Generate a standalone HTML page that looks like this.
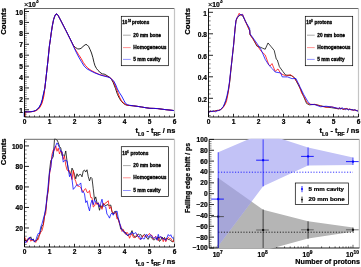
<!DOCTYPE html>
<html><head><meta charset="utf-8"><style>
html,body{margin:0;padding:0;background:#fff;}
svg{display:block;font-family:"Liberation Sans", sans-serif;will-change:transform;opacity:0.999;}
text{stroke:#000;stroke-width:0.22px;}
text.leg{stroke-width:0.3px;}
</style></head><body>
<svg width="361" height="267" viewBox="0 0 361 267" font-family="&quot;Liberation Sans&quot;, sans-serif">
<rect width="361" height="267" fill="#fff"/>
<polyline points="24.5,117 24.5,111.8 28,111.9 31,111.7 33.7,111.3 36,110.4 37.9,109 39.5,107 41.3,103.5 42.5,99.5 43.4,95.2 44.8,88.3 45.9,79 47,69 48,60 49.4,46 50.3,40 51.3,32.5 52.4,25.5 53.6,19.5 54.8,16 56,14 57,14 58.2,15.6 60,19 62,22.9 64,26.8 66,30.7 68,34.7 70,38.7 72,42.8 73.5,45.6 75.5,47.5 77.5,48.8 79,49 81,48.4 83,46.5 85,44.9 85.9,44.5 87,44.8 88.5,46.3 90.1,49.6 91.5,53 92.9,57.7 94,62.5 95,65.8 96.5,68.5 98,70.4 100,72.3 102.2,73.9 104.2,74.1 106,75 108,76.3 109.8,77.3 111.5,79.5 113.2,82.5 115.5,88.5 117.5,94.5 119.5,98.5 121.5,101.5 123.5,103.5 125.5,104.7 127.5,105.3 130,105.5 133.2,105.8 137,106.3 141.6,107 145,107.6 149.9,108.3 153.7,108.4 157.7,108.6 162,109.2 166,109.7 170,110.1 174.5,110.6 174.5,117" fill="none" stroke="#000" stroke-width="0.85" stroke-linejoin="round"/>
<polyline points="25.1,117 25.1,111.8 28.6,111.9 31.6,111.7 34.3,111.3 36.6,110.4 38.5,109 40.1,107 41.9,103.5 43.1,99.5 44,95.2 44.8,88.3 45.9,79 47,69 48,60 49.4,46 50.3,40 51.3,32.5 52.4,25.5 53.6,19.5 54.8,16 56,14 57,14 58.2,15.6 60,19 62,22.9 64,26.8 66,30.7 68,34.7 70,38.7 72,42.8 74,47 76.2,50.8 78.5,54.5 81.1,58.4 83.3,62.5 85.5,65.5 88,68.3 91.1,70.4 95,72.5 99.4,74.5 103.5,75.6 107.7,76.6 110.5,78 112.5,80.1 114.3,83.5 116,87.7 117.8,92.5 119.5,97 121.3,100.5 123.5,103 125.5,104.5 128,105.3 131,105.7 133.2,105.8 137,106.3 141.6,107 145,107.6 149.9,108.3 153.7,108.4 157.7,108.6 162,109.2 166,109.7 170,110.1 174.5,110.6 174.5,117" fill="none" stroke="#f00" stroke-width="0.85" stroke-linejoin="round"/>
<polyline points="24.2,117 24.2,111.8 27.7,111.9 30.7,111.7 33.4,111.3 35.7,110.4 37.6,109 39.2,107 41,103.5 42.2,99.5 43.1,95.2 44.8,88.3 45.9,79 47,69 48,60 49.4,46 50.3,40 51.3,32.5 52.4,25.5 53.6,19.5 54.8,16 56,14 57,14 58.2,15.6 60,19 62,22.9 64,26.8 66,30.7 68,34.7 70,38.7 72,42.8 74,47.5 76.2,52.2 78.7,57 81.2,61.3 84.2,66.2 86.8,68.7 89.7,70.4 95,73 100.8,75.2 105,76.3 109,77.3 111.5,79 114,81.5 115.8,85 117.4,89 119.5,92.8 121.6,96 123.8,100.2 125.6,103.5 127.3,104.6 129,105.2 132,105.6 133.2,105.8 137,106.3 141.6,107 145,107.6 149.9,108.3 153.7,108.4 157.7,108.6 162,109.2 166,109.7 170,110.1 174.5,110.6 174.5,117" fill="none" stroke="#00f" stroke-width="0.85" stroke-linejoin="round"/>
<line x1="24.5" y1="8.5" x2="174.5" y2="8.5" stroke="#444" stroke-width="0.8" />
<line x1="174.5" y1="8.5" x2="174.5" y2="117" stroke="#c4c4c4" stroke-width="1.2" />
<line x1="24.5" y1="8.5" x2="24.5" y2="117" stroke="#000" stroke-width="0.9" />
<line x1="24.5" y1="117" x2="174.5" y2="117" stroke="#000" stroke-width="0.9" />
<line x1="24.5" y1="117" x2="24.5" y2="113.8" stroke="#000" stroke-width="0.85" />
<line x1="29.5" y1="117" x2="29.5" y2="115.4" stroke="#000" stroke-width="0.6" />
<line x1="34.5" y1="117" x2="34.5" y2="115.4" stroke="#000" stroke-width="0.6" />
<line x1="39.5" y1="117" x2="39.5" y2="115.4" stroke="#000" stroke-width="0.6" />
<line x1="44.5" y1="117" x2="44.5" y2="115.4" stroke="#000" stroke-width="0.6" />
<line x1="49.5" y1="117" x2="49.5" y2="113.8" stroke="#000" stroke-width="0.85" />
<line x1="54.5" y1="117" x2="54.5" y2="115.4" stroke="#000" stroke-width="0.6" />
<line x1="59.5" y1="117" x2="59.5" y2="115.4" stroke="#000" stroke-width="0.6" />
<line x1="64.5" y1="117" x2="64.5" y2="115.4" stroke="#000" stroke-width="0.6" />
<line x1="69.5" y1="117" x2="69.5" y2="115.4" stroke="#000" stroke-width="0.6" />
<line x1="74.5" y1="117" x2="74.5" y2="113.8" stroke="#000" stroke-width="0.85" />
<line x1="79.5" y1="117" x2="79.5" y2="115.4" stroke="#000" stroke-width="0.6" />
<line x1="84.5" y1="117" x2="84.5" y2="115.4" stroke="#000" stroke-width="0.6" />
<line x1="89.5" y1="117" x2="89.5" y2="115.4" stroke="#000" stroke-width="0.6" />
<line x1="94.5" y1="117" x2="94.5" y2="115.4" stroke="#000" stroke-width="0.6" />
<line x1="99.5" y1="117" x2="99.5" y2="113.8" stroke="#000" stroke-width="0.85" />
<line x1="104.5" y1="117" x2="104.5" y2="115.4" stroke="#000" stroke-width="0.6" />
<line x1="109.5" y1="117" x2="109.5" y2="115.4" stroke="#000" stroke-width="0.6" />
<line x1="114.5" y1="117" x2="114.5" y2="115.4" stroke="#000" stroke-width="0.6" />
<line x1="119.5" y1="117" x2="119.5" y2="115.4" stroke="#000" stroke-width="0.6" />
<line x1="124.5" y1="117" x2="124.5" y2="113.8" stroke="#000" stroke-width="0.85" />
<line x1="129.5" y1="117" x2="129.5" y2="115.4" stroke="#000" stroke-width="0.6" />
<line x1="134.5" y1="117" x2="134.5" y2="115.4" stroke="#000" stroke-width="0.6" />
<line x1="139.5" y1="117" x2="139.5" y2="115.4" stroke="#000" stroke-width="0.6" />
<line x1="144.5" y1="117" x2="144.5" y2="115.4" stroke="#000" stroke-width="0.6" />
<line x1="149.5" y1="117" x2="149.5" y2="113.8" stroke="#000" stroke-width="0.85" />
<line x1="154.5" y1="117" x2="154.5" y2="115.4" stroke="#000" stroke-width="0.6" />
<line x1="159.5" y1="117" x2="159.5" y2="115.4" stroke="#000" stroke-width="0.6" />
<line x1="164.5" y1="117" x2="164.5" y2="115.4" stroke="#000" stroke-width="0.6" />
<line x1="169.5" y1="117" x2="169.5" y2="115.4" stroke="#000" stroke-width="0.6" />
<line x1="174.5" y1="117" x2="174.5" y2="113.8" stroke="#000" stroke-width="0.85" />
<text x="24.5" y="124" font-size="6.6" text-anchor="middle" font-weight="bold" >0</text>
<text x="49.5" y="124" font-size="6.6" text-anchor="middle" font-weight="bold" >1</text>
<text x="74.5" y="124" font-size="6.6" text-anchor="middle" font-weight="bold" >2</text>
<text x="99.5" y="124" font-size="6.6" text-anchor="middle" font-weight="bold" >3</text>
<text x="124.5" y="124" font-size="6.6" text-anchor="middle" font-weight="bold" >4</text>
<text x="149.5" y="124" font-size="6.6" text-anchor="middle" font-weight="bold" >5</text>
<text x="174.5" y="124" font-size="6.6" text-anchor="middle" font-weight="bold" >6</text>
<line x1="24.5" y1="109.78" x2="29" y2="109.78" stroke="#000" stroke-width="0.85" />
<text x="22.9" y="112.78" font-size="6.6" text-anchor="end" font-weight="bold" >1</text>
<line x1="24.5" y1="98.86" x2="29" y2="98.86" stroke="#000" stroke-width="0.85" />
<text x="22.9" y="101.86" font-size="6.6" text-anchor="end" font-weight="bold" >2</text>
<line x1="24.5" y1="87.94" x2="29" y2="87.94" stroke="#000" stroke-width="0.85" />
<text x="22.9" y="90.94" font-size="6.6" text-anchor="end" font-weight="bold" >3</text>
<line x1="24.5" y1="77.02" x2="29" y2="77.02" stroke="#000" stroke-width="0.85" />
<text x="22.9" y="80.02" font-size="6.6" text-anchor="end" font-weight="bold" >4</text>
<line x1="24.5" y1="66.1" x2="29" y2="66.1" stroke="#000" stroke-width="0.85" />
<text x="22.9" y="69.1" font-size="6.6" text-anchor="end" font-weight="bold" >5</text>
<line x1="24.5" y1="55.18" x2="29" y2="55.18" stroke="#000" stroke-width="0.85" />
<text x="22.9" y="58.18" font-size="6.6" text-anchor="end" font-weight="bold" >6</text>
<line x1="24.5" y1="44.26" x2="29" y2="44.26" stroke="#000" stroke-width="0.85" />
<text x="22.9" y="47.26" font-size="6.6" text-anchor="end" font-weight="bold" >7</text>
<line x1="24.5" y1="33.34" x2="29" y2="33.34" stroke="#000" stroke-width="0.85" />
<text x="22.9" y="36.34" font-size="6.6" text-anchor="end" font-weight="bold" >8</text>
<line x1="24.5" y1="22.42" x2="29" y2="22.42" stroke="#000" stroke-width="0.85" />
<text x="22.9" y="25.42" font-size="6.6" text-anchor="end" font-weight="bold" >9</text>
<line x1="24.5" y1="11.5" x2="29" y2="11.5" stroke="#000" stroke-width="0.85" />
<text x="22.9" y="14.5" font-size="6.6" text-anchor="end" font-weight="bold" >10</text>
<line x1="24.5" y1="116.33" x2="26.7" y2="116.33" stroke="#000" stroke-width="0.5" />
<line x1="24.5" y1="114.15" x2="26.7" y2="114.15" stroke="#000" stroke-width="0.5" />
<line x1="24.5" y1="111.96" x2="26.7" y2="111.96" stroke="#000" stroke-width="0.5" />
<line x1="24.5" y1="107.6" x2="26.7" y2="107.6" stroke="#000" stroke-width="0.5" />
<line x1="24.5" y1="105.41" x2="26.7" y2="105.41" stroke="#000" stroke-width="0.5" />
<line x1="24.5" y1="103.23" x2="26.7" y2="103.23" stroke="#000" stroke-width="0.5" />
<line x1="24.5" y1="101.04" x2="26.7" y2="101.04" stroke="#000" stroke-width="0.5" />
<line x1="24.5" y1="96.68" x2="26.7" y2="96.68" stroke="#000" stroke-width="0.5" />
<line x1="24.5" y1="94.49" x2="26.7" y2="94.49" stroke="#000" stroke-width="0.5" />
<line x1="24.5" y1="92.31" x2="26.7" y2="92.31" stroke="#000" stroke-width="0.5" />
<line x1="24.5" y1="90.12" x2="26.7" y2="90.12" stroke="#000" stroke-width="0.5" />
<line x1="24.5" y1="85.76" x2="26.7" y2="85.76" stroke="#000" stroke-width="0.5" />
<line x1="24.5" y1="83.57" x2="26.7" y2="83.57" stroke="#000" stroke-width="0.5" />
<line x1="24.5" y1="81.39" x2="26.7" y2="81.39" stroke="#000" stroke-width="0.5" />
<line x1="24.5" y1="79.2" x2="26.7" y2="79.2" stroke="#000" stroke-width="0.5" />
<line x1="24.5" y1="74.84" x2="26.7" y2="74.84" stroke="#000" stroke-width="0.5" />
<line x1="24.5" y1="72.65" x2="26.7" y2="72.65" stroke="#000" stroke-width="0.5" />
<line x1="24.5" y1="70.47" x2="26.7" y2="70.47" stroke="#000" stroke-width="0.5" />
<line x1="24.5" y1="68.28" x2="26.7" y2="68.28" stroke="#000" stroke-width="0.5" />
<line x1="24.5" y1="63.92" x2="26.7" y2="63.92" stroke="#000" stroke-width="0.5" />
<line x1="24.5" y1="61.73" x2="26.7" y2="61.73" stroke="#000" stroke-width="0.5" />
<line x1="24.5" y1="59.55" x2="26.7" y2="59.55" stroke="#000" stroke-width="0.5" />
<line x1="24.5" y1="57.36" x2="26.7" y2="57.36" stroke="#000" stroke-width="0.5" />
<line x1="24.5" y1="53" x2="26.7" y2="53" stroke="#000" stroke-width="0.5" />
<line x1="24.5" y1="50.81" x2="26.7" y2="50.81" stroke="#000" stroke-width="0.5" />
<line x1="24.5" y1="48.63" x2="26.7" y2="48.63" stroke="#000" stroke-width="0.5" />
<line x1="24.5" y1="46.44" x2="26.7" y2="46.44" stroke="#000" stroke-width="0.5" />
<line x1="24.5" y1="42.08" x2="26.7" y2="42.08" stroke="#000" stroke-width="0.5" />
<line x1="24.5" y1="39.89" x2="26.7" y2="39.89" stroke="#000" stroke-width="0.5" />
<line x1="24.5" y1="37.71" x2="26.7" y2="37.71" stroke="#000" stroke-width="0.5" />
<line x1="24.5" y1="35.52" x2="26.7" y2="35.52" stroke="#000" stroke-width="0.5" />
<line x1="24.5" y1="31.16" x2="26.7" y2="31.16" stroke="#000" stroke-width="0.5" />
<line x1="24.5" y1="28.97" x2="26.7" y2="28.97" stroke="#000" stroke-width="0.5" />
<line x1="24.5" y1="26.79" x2="26.7" y2="26.79" stroke="#000" stroke-width="0.5" />
<line x1="24.5" y1="24.6" x2="26.7" y2="24.6" stroke="#000" stroke-width="0.5" />
<line x1="24.5" y1="20.24" x2="26.7" y2="20.24" stroke="#000" stroke-width="0.5" />
<line x1="24.5" y1="18.05" x2="26.7" y2="18.05" stroke="#000" stroke-width="0.5" />
<line x1="24.5" y1="15.87" x2="26.7" y2="15.87" stroke="#000" stroke-width="0.5" />
<line x1="24.5" y1="13.68" x2="26.7" y2="13.68" stroke="#000" stroke-width="0.5" />
<line x1="24.5" y1="9.32" x2="26.7" y2="9.32" stroke="#000" stroke-width="0.5" />
<text x="24" y="7.3" font-size="6.8" text-anchor="start" font-weight="bold" ><tspan font-weight="normal" font-size="7.4" style="stroke-width:0.15px">×</tspan>10<tspan font-size="4.6" dy="-4.2">3</tspan></text>
<text x="0" y="0" font-size="7.8" text-anchor="middle" font-weight="bold" transform="translate(6.3,21.4) rotate(-90)">Counts</text>
<text x="175.4" y="133" font-size="7.4" text-anchor="end" font-weight="bold">t<tspan font-size="5.4" dy="2.6">L0</tspan><tspan dy="-2.6"> - t</tspan><tspan font-size="5.4" dy="2.6">RF</tspan><tspan dy="-2.6"> / ns</tspan></text>
<rect x="121.3" y="16.3" width="47.3" height="49.4" fill="#fff" stroke="#000" stroke-width="0.7"/>
<text x="122.2" y="23.6" font-size="4.9" font-weight="bold" textLength="5.1" lengthAdjust="spacingAndGlyphs" class="leg">10</text>
<text x="128" y="21.6" font-size="3.2" font-weight="bold" textLength="3.1" lengthAdjust="spacingAndGlyphs" class="leg">10</text>
<text x="132" y="23.6" font-size="4.9" font-weight="bold" textLength="17.3" lengthAdjust="spacingAndGlyphs" class="leg">protons</text>
<line x1="123" y1="35.2" x2="130.7" y2="35.2" stroke="#888" stroke-width="0.7" />
<text x="133.3" y="36.5" font-size="4.8" font-weight="bold" textLength="27.7" lengthAdjust="spacingAndGlyphs" class="leg">20 mm bone</text>
<line x1="123" y1="47.6" x2="130.7" y2="47.6" stroke="#f66" stroke-width="0.7" />
<text x="133.3" y="48.9" font-size="4.8" font-weight="bold" textLength="33.2" lengthAdjust="spacingAndGlyphs" class="leg">Homogeneous</text>
<line x1="123" y1="59.4" x2="130.7" y2="59.4" stroke="#66f" stroke-width="0.7" />
<text x="133.3" y="60.7" font-size="4.8" font-weight="bold" textLength="27.3" lengthAdjust="spacingAndGlyphs" class="leg">5 mm cavity</text>
<polyline points="208.5,117 208.5,111.8 209.75,111.9 211,111.4 212.25,111.09 213.5,110.87 214.75,111.23 216,110.65 217.25,110.3 218.5,110.57 219.75,110.05 221,109.38 222.25,107.69 223.5,106.5 224.75,104.04 226,100.47 227.25,96.18 228.5,89.95 229.75,81.72 231,69.14 232.25,57.39 233.5,46.38 233.6,45.17 235,29.68 236,21.13 237.1,17.93 239.2,15.99 240.5,14.55 242.6,15.74 245.4,20.8 249.6,30.63 249.75,30.29 250,34.87 252.8,38.49 256.9,46.13 260.4,47.26 262.5,48.17 265.2,49.25 268,42.96 270.8,46.26 274.2,50.39 276.3,59.22 277.3,59.93 279.4,66.66 282.9,71.52 285.6,75.02 289.1,75.32 291.9,75.82 294.6,77.75 298.1,84.62 300.9,89.8 303.6,96.48 306.6,103.46 309.4,104.83 314.9,104.33 320.5,105.73 326,106.98 331.6,107.7 338.5,108.87 339.75,108.63 341,108.16 342.25,108.92 343.5,109.31 344.75,108.85 346,108.62 347.25,109.05 348.5,109.82 349.75,108.97 351,109.76 352.25,109.53 353.5,110 354.75,110.09 356,110.33 357.25,111.06 358.5,110.77 358.5,117" fill="none" stroke="#000" stroke-width="0.75" stroke-linejoin="round"/>
<polyline points="208.5,117 208.5,112.21 210.35,111.08 211.6,111.53 212.85,111.44 214.1,111.63 215.35,110.67 216.6,110.89 217.85,110.57 219.1,110.06 220.35,109.66 221.6,108.96 222.85,107.94 224.1,106.12 225.35,104.26 226.6,100.91 227.85,94.33 229.1,86.44 230.35,74.66 231.6,63.06 232.85,51.72 233.6,45.2 235,28.85 236,20.63 237.1,17.9 239.2,13.26 240.5,15.35 242.6,14.26 245.4,21.69 249.6,30.22 250,34.4 256.9,44.99 261.1,51.19 265.2,54.92 268.7,64.43 270.1,66 272,63.59 275.2,71.35 278,68.95 280.8,73.76 286.3,75.94 290.5,74.59 293.9,77.61 298.8,84.63 301.6,93.08 304.3,96.98 306.9,102.44 309.4,104.22 314.9,104.51 320.5,105.99 326,107.32 331.6,106.66 338.5,108.86 339.1,107.7 340.35,108.53 341.6,108.08 342.85,109.43 344.1,109.3 345.35,108.84 346.6,108.45 347.85,109.06 349.1,109.51 350.35,109.28 351.6,109.92 352.85,110.33 354.1,110.04 355.35,110.02 356.6,110.65 357.85,110.36 358.5,110.89 358.5,117" fill="none" stroke="#f00" stroke-width="0.75" stroke-linejoin="round"/>
<polyline points="208.5,117 208.5,111.34 209.45,111.82 210.7,111.01 211.95,111.77 213.2,111.2 214.45,111.11 215.7,111.8 216.95,110.93 218.2,110.47 219.45,110.29 220.7,109.62 221.95,108.05 223.2,106.75 224.45,103.64 225.7,100.5 226.95,95.7 228.2,90.02 229.45,81.92 230.7,70.64 231.95,60.27 233.2,47.86 233.6,44.73 235,28.87 236,20.14 237.1,17.62 239.2,15.15 240.5,14.61 242.6,14.7 245.4,21.49 249.6,28.27 250,33.73 256.9,43.33 261.1,49.65 265.2,59.34 269,65.36 272.5,68.85 275.2,72.02 280.8,72.99 282.2,76.89 287.7,76.93 291.9,78.65 296,78.56 300.2,87.37 303.9,94.9 308,101.75 310.5,104.48 314.9,104.66 320.5,106.75 326,106.21 331.6,106.94 338.5,108.41 339.45,107.63 340.7,109.33 341.95,107.65 343.2,108.69 344.45,108.77 345.7,109.83 346.95,108.52 348.2,109.91 349.45,109.34 350.7,109.71 351.95,109.63 353.2,110.28 354.45,109.7 355.7,110.26 356.95,110.57 358.2,111.29 358.5,109.65 358.5,117" fill="none" stroke="#00f" stroke-width="0.75" stroke-linejoin="round"/>
<line x1="208.5" y1="8.5" x2="358.5" y2="8.5" stroke="#444" stroke-width="0.8" />
<line x1="358.5" y1="8.5" x2="358.5" y2="117" stroke="#c4c4c4" stroke-width="1.2" />
<line x1="208.5" y1="8.5" x2="208.5" y2="117" stroke="#000" stroke-width="0.9" />
<line x1="208.5" y1="117" x2="358.5" y2="117" stroke="#000" stroke-width="0.9" />
<line x1="208.5" y1="117" x2="208.5" y2="113.8" stroke="#000" stroke-width="0.85" />
<line x1="213.5" y1="117" x2="213.5" y2="115.4" stroke="#000" stroke-width="0.6" />
<line x1="218.5" y1="117" x2="218.5" y2="115.4" stroke="#000" stroke-width="0.6" />
<line x1="223.5" y1="117" x2="223.5" y2="115.4" stroke="#000" stroke-width="0.6" />
<line x1="228.5" y1="117" x2="228.5" y2="115.4" stroke="#000" stroke-width="0.6" />
<line x1="233.5" y1="117" x2="233.5" y2="113.8" stroke="#000" stroke-width="0.85" />
<line x1="238.5" y1="117" x2="238.5" y2="115.4" stroke="#000" stroke-width="0.6" />
<line x1="243.5" y1="117" x2="243.5" y2="115.4" stroke="#000" stroke-width="0.6" />
<line x1="248.5" y1="117" x2="248.5" y2="115.4" stroke="#000" stroke-width="0.6" />
<line x1="253.5" y1="117" x2="253.5" y2="115.4" stroke="#000" stroke-width="0.6" />
<line x1="258.5" y1="117" x2="258.5" y2="113.8" stroke="#000" stroke-width="0.85" />
<line x1="263.5" y1="117" x2="263.5" y2="115.4" stroke="#000" stroke-width="0.6" />
<line x1="268.5" y1="117" x2="268.5" y2="115.4" stroke="#000" stroke-width="0.6" />
<line x1="273.5" y1="117" x2="273.5" y2="115.4" stroke="#000" stroke-width="0.6" />
<line x1="278.5" y1="117" x2="278.5" y2="115.4" stroke="#000" stroke-width="0.6" />
<line x1="283.5" y1="117" x2="283.5" y2="113.8" stroke="#000" stroke-width="0.85" />
<line x1="288.5" y1="117" x2="288.5" y2="115.4" stroke="#000" stroke-width="0.6" />
<line x1="293.5" y1="117" x2="293.5" y2="115.4" stroke="#000" stroke-width="0.6" />
<line x1="298.5" y1="117" x2="298.5" y2="115.4" stroke="#000" stroke-width="0.6" />
<line x1="303.5" y1="117" x2="303.5" y2="115.4" stroke="#000" stroke-width="0.6" />
<line x1="308.5" y1="117" x2="308.5" y2="113.8" stroke="#000" stroke-width="0.85" />
<line x1="313.5" y1="117" x2="313.5" y2="115.4" stroke="#000" stroke-width="0.6" />
<line x1="318.5" y1="117" x2="318.5" y2="115.4" stroke="#000" stroke-width="0.6" />
<line x1="323.5" y1="117" x2="323.5" y2="115.4" stroke="#000" stroke-width="0.6" />
<line x1="328.5" y1="117" x2="328.5" y2="115.4" stroke="#000" stroke-width="0.6" />
<line x1="333.5" y1="117" x2="333.5" y2="113.8" stroke="#000" stroke-width="0.85" />
<line x1="338.5" y1="117" x2="338.5" y2="115.4" stroke="#000" stroke-width="0.6" />
<line x1="343.5" y1="117" x2="343.5" y2="115.4" stroke="#000" stroke-width="0.6" />
<line x1="348.5" y1="117" x2="348.5" y2="115.4" stroke="#000" stroke-width="0.6" />
<line x1="353.5" y1="117" x2="353.5" y2="115.4" stroke="#000" stroke-width="0.6" />
<line x1="358.5" y1="117" x2="358.5" y2="113.8" stroke="#000" stroke-width="0.85" />
<text x="208.5" y="124" font-size="6.6" text-anchor="middle" font-weight="bold" >0</text>
<text x="233.5" y="124" font-size="6.6" text-anchor="middle" font-weight="bold" >1</text>
<text x="258.5" y="124" font-size="6.6" text-anchor="middle" font-weight="bold" >2</text>
<text x="283.5" y="124" font-size="6.6" text-anchor="middle" font-weight="bold" >3</text>
<text x="308.5" y="124" font-size="6.6" text-anchor="middle" font-weight="bold" >4</text>
<text x="333.5" y="124" font-size="6.6" text-anchor="middle" font-weight="bold" >5</text>
<text x="358.5" y="124" font-size="6.6" text-anchor="middle" font-weight="bold" >6</text>
<line x1="208.5" y1="98.3" x2="213" y2="98.3" stroke="#000" stroke-width="0.85" />
<text x="207" y="101.8" font-size="6.6" text-anchor="end" font-weight="bold" >0.2</text>
<line x1="208.5" y1="76.8" x2="213" y2="76.8" stroke="#000" stroke-width="0.85" />
<text x="207" y="80.3" font-size="6.6" text-anchor="end" font-weight="bold" >0.4</text>
<line x1="208.5" y1="55.3" x2="213" y2="55.3" stroke="#000" stroke-width="0.85" />
<text x="207" y="58.8" font-size="6.6" text-anchor="end" font-weight="bold" >0.6</text>
<line x1="208.5" y1="33.8" x2="213" y2="33.8" stroke="#000" stroke-width="0.85" />
<text x="207" y="37.3" font-size="6.6" text-anchor="end" font-weight="bold" >0.8</text>
<line x1="208.5" y1="12.3" x2="213" y2="12.3" stroke="#000" stroke-width="0.85" />
<text x="207" y="15.8" font-size="6.6" text-anchor="end" font-weight="bold" >1</text>
<line x1="208.5" y1="115.5" x2="210.7" y2="115.5" stroke="#000" stroke-width="0.5" />
<line x1="208.5" y1="111.2" x2="210.7" y2="111.2" stroke="#000" stroke-width="0.5" />
<line x1="208.5" y1="106.9" x2="210.7" y2="106.9" stroke="#000" stroke-width="0.5" />
<line x1="208.5" y1="102.6" x2="210.7" y2="102.6" stroke="#000" stroke-width="0.5" />
<line x1="208.5" y1="94" x2="210.7" y2="94" stroke="#000" stroke-width="0.5" />
<line x1="208.5" y1="89.7" x2="210.7" y2="89.7" stroke="#000" stroke-width="0.5" />
<line x1="208.5" y1="85.4" x2="210.7" y2="85.4" stroke="#000" stroke-width="0.5" />
<line x1="208.5" y1="81.1" x2="210.7" y2="81.1" stroke="#000" stroke-width="0.5" />
<line x1="208.5" y1="72.5" x2="210.7" y2="72.5" stroke="#000" stroke-width="0.5" />
<line x1="208.5" y1="68.2" x2="210.7" y2="68.2" stroke="#000" stroke-width="0.5" />
<line x1="208.5" y1="63.9" x2="210.7" y2="63.9" stroke="#000" stroke-width="0.5" />
<line x1="208.5" y1="59.6" x2="210.7" y2="59.6" stroke="#000" stroke-width="0.5" />
<line x1="208.5" y1="51" x2="210.7" y2="51" stroke="#000" stroke-width="0.5" />
<line x1="208.5" y1="46.7" x2="210.7" y2="46.7" stroke="#000" stroke-width="0.5" />
<line x1="208.5" y1="42.4" x2="210.7" y2="42.4" stroke="#000" stroke-width="0.5" />
<line x1="208.5" y1="38.1" x2="210.7" y2="38.1" stroke="#000" stroke-width="0.5" />
<line x1="208.5" y1="29.5" x2="210.7" y2="29.5" stroke="#000" stroke-width="0.5" />
<line x1="208.5" y1="25.2" x2="210.7" y2="25.2" stroke="#000" stroke-width="0.5" />
<line x1="208.5" y1="20.9" x2="210.7" y2="20.9" stroke="#000" stroke-width="0.5" />
<line x1="208.5" y1="16.6" x2="210.7" y2="16.6" stroke="#000" stroke-width="0.5" />
<text x="208" y="7.3" font-size="6.8" text-anchor="start" font-weight="bold" ><tspan font-weight="normal" font-size="7.4" style="stroke-width:0.15px">×</tspan>10<tspan font-size="4.6" dy="-4.2">3</tspan></text>
<text x="0" y="0" font-size="7.8" text-anchor="middle" font-weight="bold" transform="translate(190.3,21.4) rotate(-90)">Counts</text>
<text x="359.4" y="133" font-size="7.4" text-anchor="end" font-weight="bold">t<tspan font-size="5.4" dy="2.6">L0</tspan><tspan dy="-2.6"> - t</tspan><tspan font-size="5.4" dy="2.6">RF</tspan><tspan dy="-2.6"> / ns</tspan></text>
<rect x="305.3" y="16.3" width="47.4" height="49.4" fill="#fff" stroke="#000" stroke-width="0.7"/>
<text x="306.2" y="23.6" font-size="4.9" font-weight="bold" textLength="5.1" lengthAdjust="spacingAndGlyphs" class="leg">10</text>
<text x="311.3" y="21.6" font-size="3.2" font-weight="bold" textLength="1.4" lengthAdjust="spacingAndGlyphs" class="leg">8</text>
<text x="314.6" y="23.6" font-size="4.9" font-weight="bold" textLength="17.6" lengthAdjust="spacingAndGlyphs" class="leg">protons</text>
<line x1="307" y1="35.2" x2="314.7" y2="35.2" stroke="#888" stroke-width="0.7" />
<text x="317.3" y="36.5" font-size="4.8" font-weight="bold" textLength="27.7" lengthAdjust="spacingAndGlyphs" class="leg">20 mm bone</text>
<line x1="307" y1="47.6" x2="314.7" y2="47.6" stroke="#f66" stroke-width="0.7" />
<text x="317.3" y="48.9" font-size="4.8" font-weight="bold" textLength="33.2" lengthAdjust="spacingAndGlyphs" class="leg">Homogeneous</text>
<line x1="307" y1="59.4" x2="314.7" y2="59.4" stroke="#66f" stroke-width="0.7" />
<text x="317.3" y="60.7" font-size="4.8" font-weight="bold" textLength="27.3" lengthAdjust="spacingAndGlyphs" class="leg">5 mm cavity</text>
<polyline points="24.5,247 24.5,238.98 25.75,241.01 27,241.14 28.25,238.28 29.5,238.54 30.75,236.83 32,240.18 33.25,238.95 34.5,242.14 35.75,240.37 37,240.55 38.25,236.62 39.5,234.46 40.75,230.49 42,225.9 43.25,224.73 44.5,215.76 45.75,209.97 47,198.82 48.25,189.64 49.5,170.83 50.75,160.61 52,158.66 53.25,156.74 54.5,139 55.75,139.34 57,139.88 58.25,142.6 59.5,146.48 60.75,147.86 62,155.76 63.25,154.97 64.5,155.94 65.75,150.96 67,161.12 68.25,169.78 69.5,172.75 70.75,175.13 72,168.08 73.25,170.69 74.5,174.58 75.75,178.8 77,173.77 78.25,176.4 79.5,174.51 80.75,174.42 82,176.83 83.25,170.91 84.5,170.03 85.75,172.06 87,169.75 88.25,176.59 89.5,180.9 90.75,177.22 92,178.48 93.25,188.74 94.5,199.87 95.75,196.89 97,202.82 98.25,204.76 99.5,210.29 100.75,205.41 102,207.71 103.25,204.23 104.5,204.54 105.75,206.06 107,204.45 108.25,205.16 109.5,205.39 110.75,205.04 112,211.81 113.25,214.23 114.5,211.54 115.75,211.34 117,216.28 118.25,219.08 119.5,223.28 120.75,229.11 122,228.52 123.25,230.18 124.5,233.06 125.75,232.43 127,235.03 128.25,235.8 129.5,234.56 130.75,233.39 132,230.62 133.25,234.46 134.5,237.1 135.75,237.18 137,236 138.25,233.96 139.5,234.98 140.75,234.53 142,236.86 143.25,235.46 144.5,234.33 145.75,235.94 147,238.29 148.25,239.34 149.5,236.69 150.75,236.98 152,238.13 153.25,239.83 154.5,239.77 155.75,238.5 157,238.87 158.25,236.7 159.5,241.41 160.75,240.24 162,236.99 163.25,238.92 164.5,237.4 165.75,239.83 167,238.08 168.25,239.54 169.5,239.67 170.75,240.56 172,241.63 173.25,241.84 174.5,234.88 174.5,247" fill="none" stroke="#000" stroke-width="0.75" stroke-linejoin="round"/>
<polyline points="24.5,247 24.5,237 25.75,239.34 27,242.38 28.25,238.65 29.5,238.04 30.75,241.29 32,240.08 33.25,240.35 34.5,240.95 35.75,242.44 37,239.23 38.25,239.61 39.5,235.08 40.75,232.26 42,230.66 43.25,225.87 44.5,216.59 45.75,213.42 47,196.46 48.25,190.7 49.5,174.33 50.75,167.3 52,154.27 53.25,149.9 54.5,150.18 55.75,145.94 57,151.28 58.25,148.23 59.5,153.97 60.75,150.83 62,152.03 63.25,159.39 64.5,156 65.75,165.14 67,169.93 68.25,171.06 69.5,170.64 70.75,174.46 72,179.58 73.25,170.39 74.5,178.44 75.75,181.43 77,185.55 78.25,186.19 79.5,186.48 80.75,187.69 82,190.1 83.25,191.96 84.5,189.42 85.75,188.7 87,192.27 88.25,192.59 89.5,190.55 90.75,197.5 92,197.65 93.25,207.02 94.5,206.03 95.75,202.37 97,204.63 98.25,202.65 99.5,206.17 100.75,206.14 102,209.33 103.25,202.93 104.5,204.45 105.75,202.58 107,202.13 108.25,200.7 109.5,208.81 110.75,206.68 112,211.74 113.25,212.75 114.5,213.49 115.75,211.93 117,219 118.25,218.78 119.5,223.88 120.75,225.82 122,231.47 123.25,229.59 124.5,231.92 125.75,234.44 127,232.27 128.25,233.91 129.5,238.27 130.75,235.51 132,233.65 133.25,237.34 134.5,237.72 135.75,236.17 137,234.37 138.25,237.2 139.5,239.08 140.75,239.16 142,238.08 143.25,235.2 144.5,236.19 145.75,236.25 147,235.84 148.25,235.07 149.5,233.46 150.75,235.22 152,235.38 153.25,239.09 154.5,237.76 155.75,236.18 157,237.77 158.25,240.78 159.5,237.72 160.75,236.74 162,237.81 163.25,241.67 164.5,238.08 165.75,241.73 167,239.38 168.25,237.44 169.5,238.48 170.75,238.35 172,240.64 173.25,241.95 174.5,239.28 174.5,247" fill="none" stroke="#f00" stroke-width="0.75" stroke-linejoin="round"/>
<polyline points="24.5,247 24.5,240.7 25.75,242.76 27,240.71 28.25,239.86 29.5,237.25 30.75,239.55 32,239.63 33.25,239.43 34.5,241.92 35.75,240.56 37,236.37 38.25,233.41 39.5,233.58 40.75,227.01 42,223.72 43.25,219.16 44.5,214.51 45.75,208.01 47,196.81 48.25,184.12 49.5,172.81 50.75,167.4 52,157.4 53.25,152.71 54.5,148.23 55.75,145.63 57,142.9 58.25,144.91 59.5,147.96 60.75,151.34 62,151.35 63.25,162.14 64.5,160.62 65.75,160.26 67,160.98 68.25,168.24 69.5,176.68 70.75,173.7 72,179.35 73.25,189.37 74.5,187.95 75.75,186.28 77,184.53 78.25,185.42 79.5,184.38 80.75,182.95 82,192.48 83.25,191.64 84.5,193.87 85.75,202.6 87,200.71 88.25,206.71 89.5,210.86 90.75,203.95 92,200.1 93.25,204.72 94.5,199.66 95.75,202.06 97,203.67 98.25,203.04 99.5,206.93 100.75,203.34 102,199.21 103.25,206.21 104.5,206.26 105.75,207.13 107,214.36 108.25,215.49 109.5,218.15 110.75,214.3 112,212.91 113.25,215.22 114.5,212.67 115.75,211.94 117,210.97 118.25,218.18 119.5,222.32 120.75,227.12 122,230.04 123.25,231.67 124.5,231.9 125.75,233.88 127,235.12 128.25,235.25 129.5,233.73 130.75,234.64 132,232.07 133.25,233.76 134.5,233.39 135.75,232.6 137,234.9 138.25,236.69 139.5,235.95 140.75,239.64 142,237.52 143.25,238.9 144.5,238.75 145.75,234.92 147,234.51 148.25,237.53 149.5,235.65 150.75,234.87 152,236.82 153.25,237.93 154.5,237.84 155.75,236.86 157,240.16 158.25,234.35 159.5,238.13 160.75,236.45 162,238 163.25,239.29 164.5,239.19 165.75,240.44 167,237.49 168.25,234.53 169.5,236.19 170.75,234.71 172,237.67 173.25,238.18 174.5,237.63 174.5,247" fill="none" stroke="#00f" stroke-width="0.75" stroke-linejoin="round"/>
<line x1="24.5" y1="139.3" x2="174.5" y2="139.3" stroke="#444" stroke-width="0.8" />
<line x1="174.5" y1="139.3" x2="174.5" y2="247" stroke="#c4c4c4" stroke-width="1.2" />
<line x1="24.5" y1="139.3" x2="24.5" y2="247" stroke="#000" stroke-width="0.9" />
<line x1="24.5" y1="247" x2="174.5" y2="247" stroke="#000" stroke-width="0.9" />
<line x1="24.5" y1="247" x2="24.5" y2="243.8" stroke="#000" stroke-width="0.85" />
<line x1="29.5" y1="247" x2="29.5" y2="245.4" stroke="#000" stroke-width="0.6" />
<line x1="34.5" y1="247" x2="34.5" y2="245.4" stroke="#000" stroke-width="0.6" />
<line x1="39.5" y1="247" x2="39.5" y2="245.4" stroke="#000" stroke-width="0.6" />
<line x1="44.5" y1="247" x2="44.5" y2="245.4" stroke="#000" stroke-width="0.6" />
<line x1="49.5" y1="247" x2="49.5" y2="243.8" stroke="#000" stroke-width="0.85" />
<line x1="54.5" y1="247" x2="54.5" y2="245.4" stroke="#000" stroke-width="0.6" />
<line x1="59.5" y1="247" x2="59.5" y2="245.4" stroke="#000" stroke-width="0.6" />
<line x1="64.5" y1="247" x2="64.5" y2="245.4" stroke="#000" stroke-width="0.6" />
<line x1="69.5" y1="247" x2="69.5" y2="245.4" stroke="#000" stroke-width="0.6" />
<line x1="74.5" y1="247" x2="74.5" y2="243.8" stroke="#000" stroke-width="0.85" />
<line x1="79.5" y1="247" x2="79.5" y2="245.4" stroke="#000" stroke-width="0.6" />
<line x1="84.5" y1="247" x2="84.5" y2="245.4" stroke="#000" stroke-width="0.6" />
<line x1="89.5" y1="247" x2="89.5" y2="245.4" stroke="#000" stroke-width="0.6" />
<line x1="94.5" y1="247" x2="94.5" y2="245.4" stroke="#000" stroke-width="0.6" />
<line x1="99.5" y1="247" x2="99.5" y2="243.8" stroke="#000" stroke-width="0.85" />
<line x1="104.5" y1="247" x2="104.5" y2="245.4" stroke="#000" stroke-width="0.6" />
<line x1="109.5" y1="247" x2="109.5" y2="245.4" stroke="#000" stroke-width="0.6" />
<line x1="114.5" y1="247" x2="114.5" y2="245.4" stroke="#000" stroke-width="0.6" />
<line x1="119.5" y1="247" x2="119.5" y2="245.4" stroke="#000" stroke-width="0.6" />
<line x1="124.5" y1="247" x2="124.5" y2="243.8" stroke="#000" stroke-width="0.85" />
<line x1="129.5" y1="247" x2="129.5" y2="245.4" stroke="#000" stroke-width="0.6" />
<line x1="134.5" y1="247" x2="134.5" y2="245.4" stroke="#000" stroke-width="0.6" />
<line x1="139.5" y1="247" x2="139.5" y2="245.4" stroke="#000" stroke-width="0.6" />
<line x1="144.5" y1="247" x2="144.5" y2="245.4" stroke="#000" stroke-width="0.6" />
<line x1="149.5" y1="247" x2="149.5" y2="243.8" stroke="#000" stroke-width="0.85" />
<line x1="154.5" y1="247" x2="154.5" y2="245.4" stroke="#000" stroke-width="0.6" />
<line x1="159.5" y1="247" x2="159.5" y2="245.4" stroke="#000" stroke-width="0.6" />
<line x1="164.5" y1="247" x2="164.5" y2="245.4" stroke="#000" stroke-width="0.6" />
<line x1="169.5" y1="247" x2="169.5" y2="245.4" stroke="#000" stroke-width="0.6" />
<line x1="174.5" y1="247" x2="174.5" y2="243.8" stroke="#000" stroke-width="0.85" />
<text x="24.5" y="254" font-size="6.6" text-anchor="middle" font-weight="bold" >0</text>
<text x="49.5" y="254" font-size="6.6" text-anchor="middle" font-weight="bold" >1</text>
<text x="74.5" y="254" font-size="6.6" text-anchor="middle" font-weight="bold" >2</text>
<text x="99.5" y="254" font-size="6.6" text-anchor="middle" font-weight="bold" >3</text>
<text x="124.5" y="254" font-size="6.6" text-anchor="middle" font-weight="bold" >4</text>
<text x="149.5" y="254" font-size="6.6" text-anchor="middle" font-weight="bold" >5</text>
<text x="174.5" y="254" font-size="6.6" text-anchor="middle" font-weight="bold" >6</text>
<line x1="24.5" y1="227.98" x2="29" y2="227.98" stroke="#000" stroke-width="0.85" />
<text x="22.9" y="230.98" font-size="6.6" text-anchor="end" font-weight="bold" >20</text>
<line x1="24.5" y1="207.46" x2="29" y2="207.46" stroke="#000" stroke-width="0.85" />
<text x="22.9" y="210.46" font-size="6.6" text-anchor="end" font-weight="bold" >40</text>
<line x1="24.5" y1="186.94" x2="29" y2="186.94" stroke="#000" stroke-width="0.85" />
<text x="22.9" y="189.94" font-size="6.6" text-anchor="end" font-weight="bold" >60</text>
<line x1="24.5" y1="166.42" x2="29" y2="166.42" stroke="#000" stroke-width="0.85" />
<text x="22.9" y="169.42" font-size="6.6" text-anchor="end" font-weight="bold" >80</text>
<line x1="24.5" y1="145.9" x2="29" y2="145.9" stroke="#000" stroke-width="0.85" />
<text x="22.9" y="148.9" font-size="6.6" text-anchor="end" font-weight="bold" >100</text>
<line x1="24.5" y1="244.4" x2="26.7" y2="244.4" stroke="#000" stroke-width="0.5" />
<line x1="24.5" y1="240.29" x2="26.7" y2="240.29" stroke="#000" stroke-width="0.5" />
<line x1="24.5" y1="236.19" x2="26.7" y2="236.19" stroke="#000" stroke-width="0.5" />
<line x1="24.5" y1="232.08" x2="26.7" y2="232.08" stroke="#000" stroke-width="0.5" />
<line x1="24.5" y1="223.88" x2="26.7" y2="223.88" stroke="#000" stroke-width="0.5" />
<line x1="24.5" y1="219.77" x2="26.7" y2="219.77" stroke="#000" stroke-width="0.5" />
<line x1="24.5" y1="215.67" x2="26.7" y2="215.67" stroke="#000" stroke-width="0.5" />
<line x1="24.5" y1="211.56" x2="26.7" y2="211.56" stroke="#000" stroke-width="0.5" />
<line x1="24.5" y1="203.36" x2="26.7" y2="203.36" stroke="#000" stroke-width="0.5" />
<line x1="24.5" y1="199.25" x2="26.7" y2="199.25" stroke="#000" stroke-width="0.5" />
<line x1="24.5" y1="195.15" x2="26.7" y2="195.15" stroke="#000" stroke-width="0.5" />
<line x1="24.5" y1="191.04" x2="26.7" y2="191.04" stroke="#000" stroke-width="0.5" />
<line x1="24.5" y1="182.84" x2="26.7" y2="182.84" stroke="#000" stroke-width="0.5" />
<line x1="24.5" y1="178.73" x2="26.7" y2="178.73" stroke="#000" stroke-width="0.5" />
<line x1="24.5" y1="174.63" x2="26.7" y2="174.63" stroke="#000" stroke-width="0.5" />
<line x1="24.5" y1="170.52" x2="26.7" y2="170.52" stroke="#000" stroke-width="0.5" />
<line x1="24.5" y1="162.32" x2="26.7" y2="162.32" stroke="#000" stroke-width="0.5" />
<line x1="24.5" y1="158.21" x2="26.7" y2="158.21" stroke="#000" stroke-width="0.5" />
<line x1="24.5" y1="154.11" x2="26.7" y2="154.11" stroke="#000" stroke-width="0.5" />
<line x1="24.5" y1="150" x2="26.7" y2="150" stroke="#000" stroke-width="0.5" />
<line x1="24.5" y1="141.8" x2="26.7" y2="141.8" stroke="#000" stroke-width="0.5" />
<text x="0" y="0" font-size="7.8" text-anchor="middle" font-weight="bold" transform="translate(6.3,151.8) rotate(-90)">Counts</text>
<text x="175.4" y="263.5" font-size="7.4" text-anchor="end" font-weight="bold">t<tspan font-size="5.4" dy="2.6">L0</tspan><tspan dy="-2.6"> - t</tspan><tspan font-size="5.4" dy="2.6">RF</tspan><tspan dy="-2.6"> / ns</tspan></text>
<rect x="121.3" y="146.7" width="47.2" height="49.7" fill="#fff" stroke="#000" stroke-width="0.7"/>
<text x="122.2" y="154.8" font-size="4.9" font-weight="bold" textLength="5.1" lengthAdjust="spacingAndGlyphs" class="leg">10</text>
<text x="127.3" y="152.8" font-size="3.2" font-weight="bold" textLength="1.4" lengthAdjust="spacingAndGlyphs" class="leg">6</text>
<text x="130.5" y="154.8" font-size="4.9" font-weight="bold" textLength="18.0" lengthAdjust="spacingAndGlyphs" class="leg">protons</text>
<line x1="123" y1="165.6" x2="130.7" y2="165.6" stroke="#888" stroke-width="0.7" />
<text x="133.3" y="166.9" font-size="4.8" font-weight="bold" textLength="27.7" lengthAdjust="spacingAndGlyphs" class="leg">20 mm bone</text>
<line x1="123" y1="177.8" x2="130.7" y2="177.8" stroke="#f66" stroke-width="0.7" />
<text x="133.3" y="179.1" font-size="4.8" font-weight="bold" textLength="33.2" lengthAdjust="spacingAndGlyphs" class="leg">Homogeneous</text>
<line x1="123" y1="190.5" x2="130.7" y2="190.5" stroke="#66f" stroke-width="0.7" />
<text x="133.3" y="191.8" font-size="4.8" font-weight="bold" textLength="27.3" lengthAdjust="spacingAndGlyphs" class="leg">5 mm cavity</text>
<line x1="209.2" y1="139.4" x2="359.4" y2="139.4" stroke="#444" stroke-width="0.8" />
<line x1="359.4" y1="139.4" x2="359.4" y2="248" stroke="#c4c4c4" stroke-width="1.2" />
<line x1="209.2" y1="248" x2="359.4" y2="248" stroke="#000" stroke-width="0.9" />
<line x1="209.2" y1="248" x2="214" y2="248" stroke="#000" stroke-width="0.85" />
<text x="207.6" y="250.4" font-size="6.6" text-anchor="end" font-weight="bold" >−100</text>
<line x1="209.2" y1="237.14" x2="214" y2="237.14" stroke="#000" stroke-width="0.85" />
<text x="207.6" y="239.54" font-size="6.6" text-anchor="end" font-weight="bold" >−80</text>
<line x1="209.2" y1="226.28" x2="214" y2="226.28" stroke="#000" stroke-width="0.85" />
<text x="207.6" y="228.68" font-size="6.6" text-anchor="end" font-weight="bold" >−60</text>
<line x1="209.2" y1="215.42" x2="214" y2="215.42" stroke="#000" stroke-width="0.85" />
<text x="207.6" y="217.82" font-size="6.6" text-anchor="end" font-weight="bold" >−40</text>
<line x1="209.2" y1="204.56" x2="214" y2="204.56" stroke="#000" stroke-width="0.85" />
<text x="207.6" y="206.96" font-size="6.6" text-anchor="end" font-weight="bold" >−20</text>
<line x1="209.2" y1="193.7" x2="214" y2="193.7" stroke="#000" stroke-width="0.85" />
<text x="207.6" y="196.1" font-size="6.6" text-anchor="end" font-weight="bold" >0</text>
<line x1="209.2" y1="182.84" x2="214" y2="182.84" stroke="#000" stroke-width="0.85" />
<text x="207.6" y="185.24" font-size="6.6" text-anchor="end" font-weight="bold" >20</text>
<line x1="209.2" y1="171.98" x2="214" y2="171.98" stroke="#000" stroke-width="0.85" />
<text x="207.6" y="174.38" font-size="6.6" text-anchor="end" font-weight="bold" >40</text>
<line x1="209.2" y1="161.12" x2="214" y2="161.12" stroke="#000" stroke-width="0.85" />
<text x="207.6" y="163.52" font-size="6.6" text-anchor="end" font-weight="bold" >60</text>
<line x1="209.2" y1="150.26" x2="214" y2="150.26" stroke="#000" stroke-width="0.85" />
<text x="207.6" y="152.66" font-size="6.6" text-anchor="end" font-weight="bold" >80</text>
<line x1="209.2" y1="139.4" x2="214" y2="139.4" stroke="#000" stroke-width="0.85" />
<text x="207.6" y="141.8" font-size="6.6" text-anchor="end" font-weight="bold" >100</text>
<line x1="209.2" y1="245.83" x2="211.5" y2="245.83" stroke="#000" stroke-width="0.5" />
<line x1="209.2" y1="243.66" x2="211.5" y2="243.66" stroke="#000" stroke-width="0.5" />
<line x1="209.2" y1="241.48" x2="211.5" y2="241.48" stroke="#000" stroke-width="0.5" />
<line x1="209.2" y1="239.31" x2="211.5" y2="239.31" stroke="#000" stroke-width="0.5" />
<line x1="209.2" y1="234.97" x2="211.5" y2="234.97" stroke="#000" stroke-width="0.5" />
<line x1="209.2" y1="232.8" x2="211.5" y2="232.8" stroke="#000" stroke-width="0.5" />
<line x1="209.2" y1="230.62" x2="211.5" y2="230.62" stroke="#000" stroke-width="0.5" />
<line x1="209.2" y1="228.45" x2="211.5" y2="228.45" stroke="#000" stroke-width="0.5" />
<line x1="209.2" y1="224.11" x2="211.5" y2="224.11" stroke="#000" stroke-width="0.5" />
<line x1="209.2" y1="221.94" x2="211.5" y2="221.94" stroke="#000" stroke-width="0.5" />
<line x1="209.2" y1="219.76" x2="211.5" y2="219.76" stroke="#000" stroke-width="0.5" />
<line x1="209.2" y1="217.59" x2="211.5" y2="217.59" stroke="#000" stroke-width="0.5" />
<line x1="209.2" y1="213.25" x2="211.5" y2="213.25" stroke="#000" stroke-width="0.5" />
<line x1="209.2" y1="211.08" x2="211.5" y2="211.08" stroke="#000" stroke-width="0.5" />
<line x1="209.2" y1="208.9" x2="211.5" y2="208.9" stroke="#000" stroke-width="0.5" />
<line x1="209.2" y1="206.73" x2="211.5" y2="206.73" stroke="#000" stroke-width="0.5" />
<line x1="209.2" y1="202.39" x2="211.5" y2="202.39" stroke="#000" stroke-width="0.5" />
<line x1="209.2" y1="200.22" x2="211.5" y2="200.22" stroke="#000" stroke-width="0.5" />
<line x1="209.2" y1="198.04" x2="211.5" y2="198.04" stroke="#000" stroke-width="0.5" />
<line x1="209.2" y1="195.87" x2="211.5" y2="195.87" stroke="#000" stroke-width="0.5" />
<line x1="209.2" y1="191.53" x2="211.5" y2="191.53" stroke="#000" stroke-width="0.5" />
<line x1="209.2" y1="189.36" x2="211.5" y2="189.36" stroke="#000" stroke-width="0.5" />
<line x1="209.2" y1="187.18" x2="211.5" y2="187.18" stroke="#000" stroke-width="0.5" />
<line x1="209.2" y1="185.01" x2="211.5" y2="185.01" stroke="#000" stroke-width="0.5" />
<line x1="209.2" y1="180.67" x2="211.5" y2="180.67" stroke="#000" stroke-width="0.5" />
<line x1="209.2" y1="178.5" x2="211.5" y2="178.5" stroke="#000" stroke-width="0.5" />
<line x1="209.2" y1="176.32" x2="211.5" y2="176.32" stroke="#000" stroke-width="0.5" />
<line x1="209.2" y1="174.15" x2="211.5" y2="174.15" stroke="#000" stroke-width="0.5" />
<line x1="209.2" y1="169.81" x2="211.5" y2="169.81" stroke="#000" stroke-width="0.5" />
<line x1="209.2" y1="167.64" x2="211.5" y2="167.64" stroke="#000" stroke-width="0.5" />
<line x1="209.2" y1="165.46" x2="211.5" y2="165.46" stroke="#000" stroke-width="0.5" />
<line x1="209.2" y1="163.29" x2="211.5" y2="163.29" stroke="#000" stroke-width="0.5" />
<line x1="209.2" y1="158.95" x2="211.5" y2="158.95" stroke="#000" stroke-width="0.5" />
<line x1="209.2" y1="156.78" x2="211.5" y2="156.78" stroke="#000" stroke-width="0.5" />
<line x1="209.2" y1="154.6" x2="211.5" y2="154.6" stroke="#000" stroke-width="0.5" />
<line x1="209.2" y1="152.43" x2="211.5" y2="152.43" stroke="#000" stroke-width="0.5" />
<line x1="209.2" y1="148.09" x2="211.5" y2="148.09" stroke="#000" stroke-width="0.5" />
<line x1="209.2" y1="145.92" x2="211.5" y2="145.92" stroke="#000" stroke-width="0.5" />
<line x1="209.2" y1="143.74" x2="211.5" y2="143.74" stroke="#000" stroke-width="0.5" />
<line x1="209.2" y1="141.57" x2="211.5" y2="141.57" stroke="#000" stroke-width="0.5" />
<line x1="211.24" y1="248" x2="211.24" y2="246.4" stroke="#000" stroke-width="0.6" />
<line x1="213.85" y1="248" x2="213.85" y2="246.4" stroke="#000" stroke-width="0.6" />
<line x1="216.14" y1="248" x2="216.14" y2="246.4" stroke="#000" stroke-width="0.6" />
<line x1="218.2" y1="248" x2="218.2" y2="244.8" stroke="#000" stroke-width="0.6" />
<line x1="231.73" y1="248" x2="231.73" y2="246.4" stroke="#000" stroke-width="0.6" />
<line x1="239.64" y1="248" x2="239.64" y2="246.4" stroke="#000" stroke-width="0.6" />
<line x1="245.25" y1="248" x2="245.25" y2="246.4" stroke="#000" stroke-width="0.6" />
<line x1="249.6" y1="248" x2="249.6" y2="246.4" stroke="#000" stroke-width="0.6" />
<line x1="253.16" y1="248" x2="253.16" y2="246.4" stroke="#000" stroke-width="0.6" />
<line x1="256.17" y1="248" x2="256.17" y2="246.4" stroke="#000" stroke-width="0.6" />
<line x1="258.78" y1="248" x2="258.78" y2="246.4" stroke="#000" stroke-width="0.6" />
<line x1="261.07" y1="248" x2="261.07" y2="246.4" stroke="#000" stroke-width="0.6" />
<line x1="263.13" y1="248" x2="263.13" y2="244.8" stroke="#000" stroke-width="0.6" />
<line x1="276.66" y1="248" x2="276.66" y2="246.4" stroke="#000" stroke-width="0.6" />
<line x1="284.57" y1="248" x2="284.57" y2="246.4" stroke="#000" stroke-width="0.6" />
<line x1="290.18" y1="248" x2="290.18" y2="246.4" stroke="#000" stroke-width="0.6" />
<line x1="294.53" y1="248" x2="294.53" y2="246.4" stroke="#000" stroke-width="0.6" />
<line x1="298.09" y1="248" x2="298.09" y2="246.4" stroke="#000" stroke-width="0.6" />
<line x1="301.1" y1="248" x2="301.1" y2="246.4" stroke="#000" stroke-width="0.6" />
<line x1="303.71" y1="248" x2="303.71" y2="246.4" stroke="#000" stroke-width="0.6" />
<line x1="306" y1="248" x2="306" y2="246.4" stroke="#000" stroke-width="0.6" />
<line x1="308.06" y1="248" x2="308.06" y2="244.8" stroke="#000" stroke-width="0.6" />
<line x1="321.59" y1="248" x2="321.59" y2="246.4" stroke="#000" stroke-width="0.6" />
<line x1="329.5" y1="248" x2="329.5" y2="246.4" stroke="#000" stroke-width="0.6" />
<line x1="335.11" y1="248" x2="335.11" y2="246.4" stroke="#000" stroke-width="0.6" />
<line x1="339.46" y1="248" x2="339.46" y2="246.4" stroke="#000" stroke-width="0.6" />
<line x1="343.02" y1="248" x2="343.02" y2="246.4" stroke="#000" stroke-width="0.6" />
<line x1="346.03" y1="248" x2="346.03" y2="246.4" stroke="#000" stroke-width="0.6" />
<line x1="348.64" y1="248" x2="348.64" y2="246.4" stroke="#000" stroke-width="0.6" />
<line x1="350.93" y1="248" x2="350.93" y2="246.4" stroke="#000" stroke-width="0.6" />
<line x1="352.99" y1="248" x2="352.99" y2="244.8" stroke="#000" stroke-width="0.6" />
<defs><clipPath id="c4"><rect x="209.7" y="138.70000000000002" width="149.7" height="110"/></clipPath><clipPath id="cg"><polygon points="218.2,178.1 263.13,209.8 308.06,221.2 352.99,227.5 352.99,231.8 308.06,238.5 263.13,250.8 218.2,265"/></clipPath></defs>
<g clip-path="url(#c4)">
<polygon points="218.2,178.1 263.13,209.8 308.06,221.2 352.99,227.5 352.99,231.8 308.06,238.5 263.13,250.8 218.2,265" fill="#b5b5b5"/>
<polygon points="218.2,152.3 263.13,133 308.06,147.4 352.99,157.5 352.99,165 308.06,165.5 263.13,186.2 218.2,246" fill="#c2c2f6"/>
<polygon points="218.2,152.3 263.13,133 308.06,147.4 352.99,157.5 352.99,165 308.06,165.5 263.13,186.2 218.2,246" fill="#a6a6d8" clip-path="url(#cg)"/>
</g>
<line x1="209.2" y1="139.4" x2="209.2" y2="248" stroke="#000" stroke-width="0.9" />
<text x="217.7" y="257" font-size="6.6" text-anchor="middle" font-weight="bold">10<tspan font-size="4.9" dy="-3.3">7</tspan></text>
<text x="262.63" y="257" font-size="6.6" text-anchor="middle" font-weight="bold">10<tspan font-size="4.9" dy="-3.3">8</tspan></text>
<text x="307.56" y="257" font-size="6.6" text-anchor="middle" font-weight="bold">10<tspan font-size="4.9" dy="-3.3">9</tspan></text>
<text x="352.49" y="257" font-size="6.6" text-anchor="middle" font-weight="bold">10<tspan font-size="4.9" dy="-3.3">10</tspan></text>
<text x="0" y="0" font-size="6.85" text-anchor="middle" font-weight="bold" transform="translate(189.8,178) rotate(-90)">Falling edge shift / ps</text>
<text x="360" y="264.2" font-size="7.2" text-anchor="end" font-weight="bold" >Number of protons</text>
<line x1="218.2" y1="172.2" x2="352.99" y2="172.2" stroke="#00f" stroke-width="0.8" stroke-dasharray="1.2 1.6"/>
<line x1="218.2" y1="232.2" x2="353.99" y2="232.2" stroke="#000" stroke-width="0.8" stroke-dasharray="1.2 1.6"/>
<line x1="218.2" y1="178.1" x2="218.2" y2="248" stroke="#111" stroke-width="0.7" />
<line x1="211.2" y1="216.6" x2="223.9" y2="216.6" stroke="#444" stroke-width="0.85" />
<rect x="217.2" y="215.6" width="2" height="2" fill="#111"/>
<line x1="263.13" y1="209.5" x2="263.13" y2="248" stroke="#111" stroke-width="0.7" />
<line x1="256.13" y1="230" x2="268.83" y2="230" stroke="#555" stroke-width="0.85" />
<rect x="262.13" y="229" width="2" height="2" fill="#111"/>
<line x1="308.06" y1="221.3" x2="308.06" y2="238.8" stroke="#111" stroke-width="0.7" />
<line x1="301.06" y1="229.8" x2="313.76" y2="229.8" stroke="#555" stroke-width="0.85" />
<rect x="307.06" y="228.8" width="2" height="2" fill="#111"/>
<line x1="352.99" y1="227.5" x2="352.99" y2="231.8" stroke="#111" stroke-width="0.7" />
<line x1="345.99" y1="229.8" x2="358.69" y2="229.8" stroke="#555" stroke-width="0.85" />
<rect x="351.99" y="228.8" width="2" height="2" fill="#111"/>
<line x1="218.2" y1="152.3" x2="218.2" y2="248" stroke="#00f" stroke-width="0.7" />
<line x1="211.2" y1="199.1" x2="223.9" y2="199.1" stroke="#00f" stroke-width="0.85" />
<rect x="217.2" y="198.1" width="2" height="2" fill="#00f"/>
<line x1="263.13" y1="139.4" x2="263.13" y2="186.4" stroke="#00f" stroke-width="0.7" />
<line x1="256.13" y1="160.2" x2="268.83" y2="160.2" stroke="#00f" stroke-width="0.85" />
<rect x="262.13" y="159.2" width="2" height="2" fill="#00f"/>
<line x1="308.06" y1="147.4" x2="308.06" y2="165.5" stroke="#00f" stroke-width="0.7" />
<line x1="301.06" y1="156.4" x2="313.76" y2="156.4" stroke="#00f" stroke-width="0.85" />
<rect x="307.06" y="155.4" width="2" height="2" fill="#00f"/>
<line x1="352.99" y1="157.5" x2="352.99" y2="165" stroke="#00f" stroke-width="0.7" />
<line x1="345.99" y1="161.6" x2="358.69" y2="161.6" stroke="#00f" stroke-width="0.85" />
<rect x="351.99" y="160.6" width="2" height="2" fill="#00f"/>
<rect x="295.3" y="183" width="53.2" height="21.4" fill="#fff" stroke="#000" stroke-width="0.7"/>
<line x1="302" y1="186" x2="302" y2="192.2" stroke="#00f" stroke-width="0.8" />
<circle cx="302" cy="189" r="0.9" fill="#00f"/>
<line x1="302" y1="196.6" x2="302" y2="202.8" stroke="#000" stroke-width="0.8" />
<circle cx="302" cy="199.6" r="0.9" fill="#000"/>
<text x="308.6" y="190.8" font-size="6.2" text-anchor="start" font-weight="bold" >5 mm cavity</text>
<text x="308.6" y="201.4" font-size="6.2" text-anchor="start" font-weight="bold" >20 mm bone</text>
</svg>
</body></html>
